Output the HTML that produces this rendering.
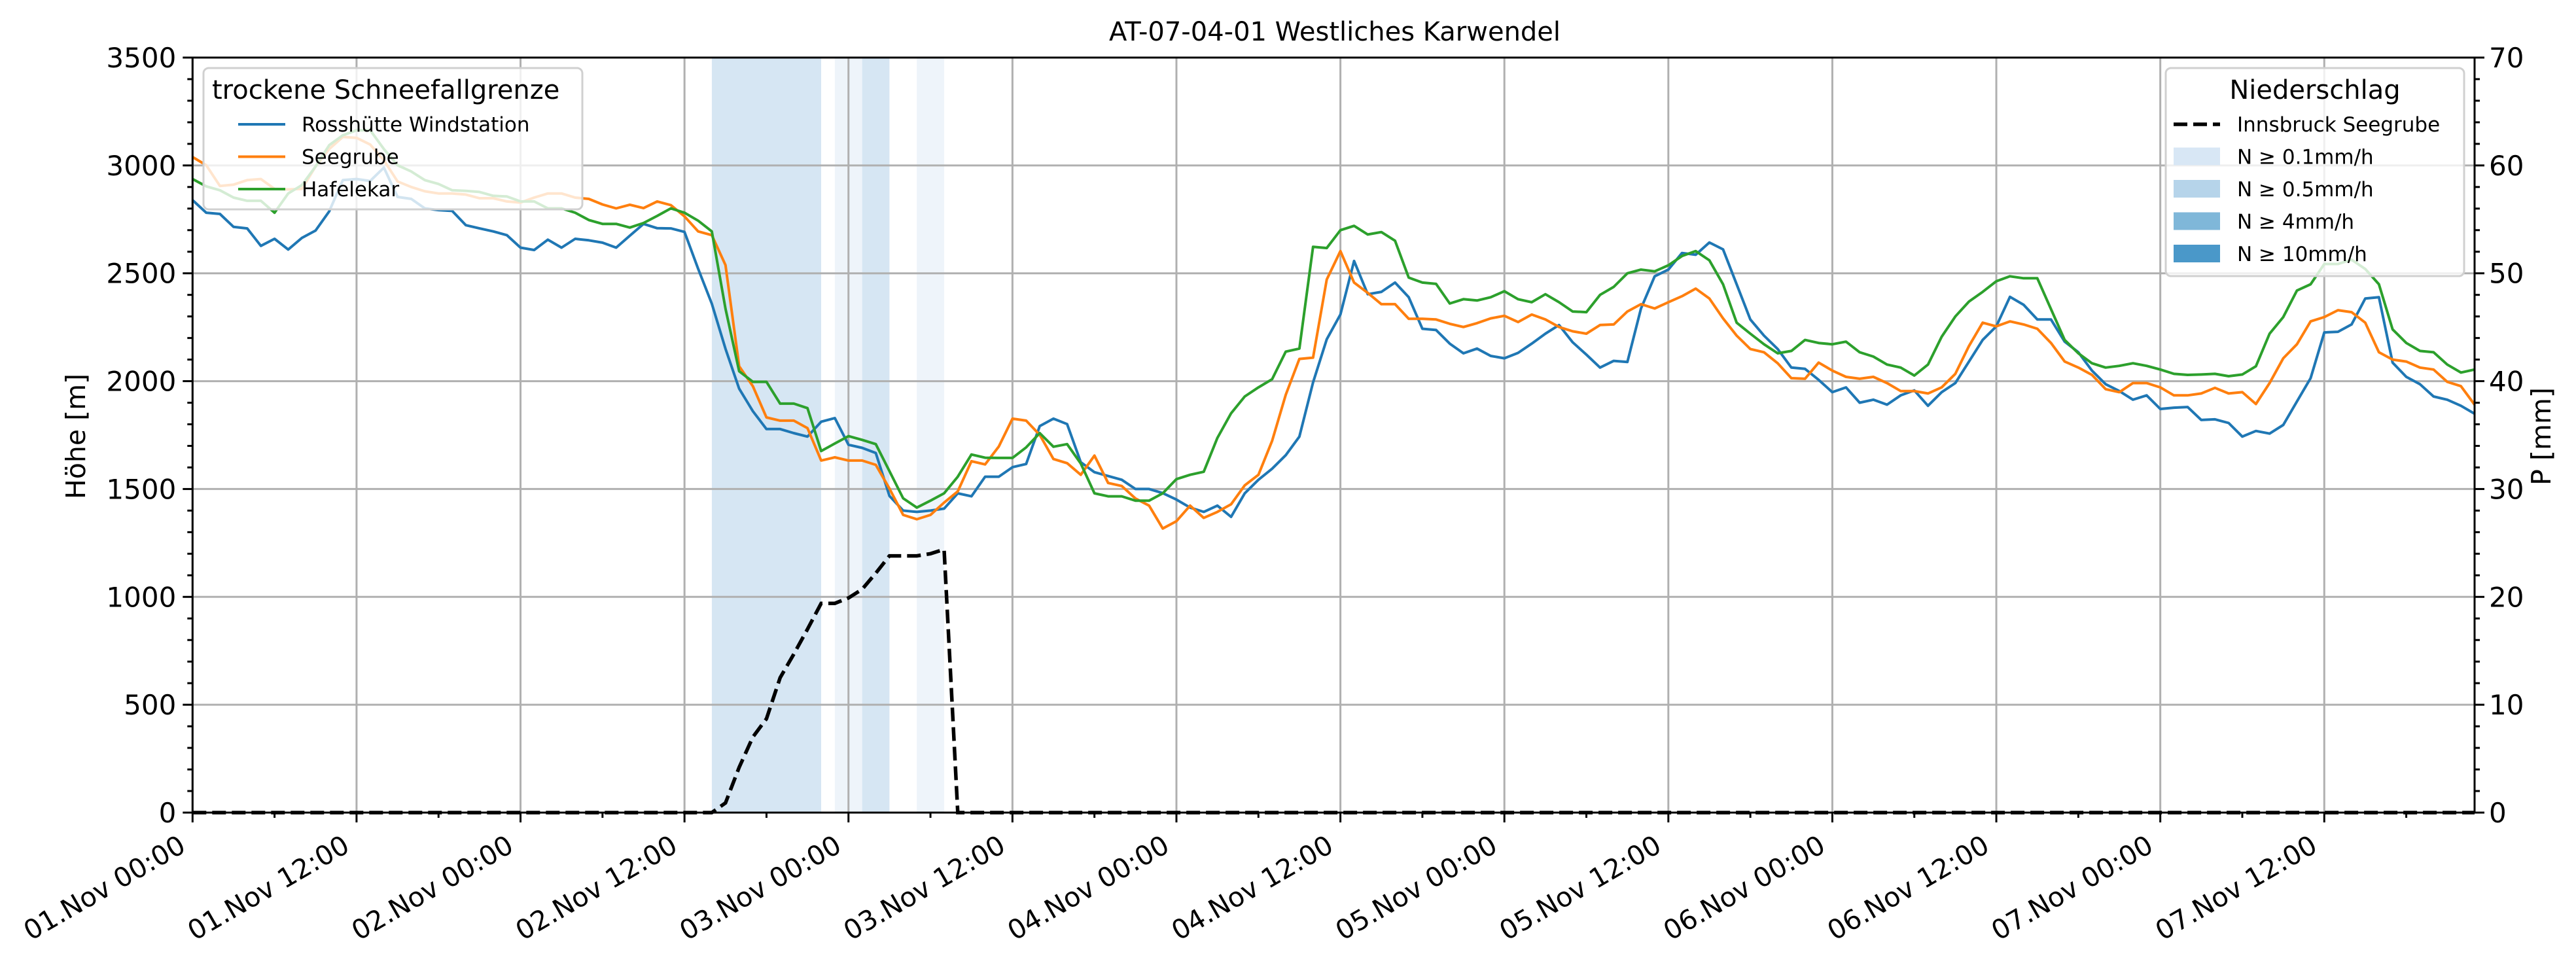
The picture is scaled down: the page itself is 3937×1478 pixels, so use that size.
<!DOCTYPE html>
<html><head><meta charset="utf-8">
<style>
html,body{margin:0;padding:0;background:#fff;}
svg{display:block;font-family:"DejaVu Sans","Liberation Sans",sans-serif;}
</style></head>
<body>
<svg id="chart" width="3937" height="1478" viewBox="0 0 3937 1478" xmlns="http://www.w3.org/2000/svg">
<rect x="0" y="0" width="3937" height="1478" fill="#fff"/>
<g id="bands"></g>
<g id="grid"></g>
<g id="series"></g>
<g id="axes"></g>
<g id="legends"></g>
<text x="2040" y="62" font-size="40" text-anchor="middle">AT-07-04-01 Westliches Karwendel</text>
<text transform="translate(130,667) rotate(-90)" font-size="41" text-anchor="middle">Höhe [m]</text>
<text transform="translate(3898,667) rotate(-90)" font-size="41" text-anchor="middle">P [mm]</text>
</svg>
<script>
const xTickLabels = ["01.Nov 00:00","01.Nov 12:00","02.Nov 00:00","02.Nov 12:00","03.Nov 00:00","03.Nov 12:00","04.Nov 00:00","04.Nov 12:00","05.Nov 00:00","05.Nov 12:00","06.Nov 00:00","06.Nov 12:00","07.Nov 00:00","07.Nov 12:00"];
const yTicks = [0,500,1000,1500,2000,2500,3000,3500];
const y2Ticks = [0,10,20,30,40,50,60,70];
const rossh = [2839,2781,2775,2715,2708,2627,2660,2610,2664,2698,2787,2932,2937,2928,2990,2854,2845,2801,2793,2789,2723,2708,2694,2677,2619,2608,2656,2619,2660,2653,2642,2619,2674,2729,2709,2708,2692,2521,2359,2150,1965,1861,1778,1778,1759,1743,1812,1829,1705,1691,1667,1468,1400,1394,1400,1409,1480,1466,1557,1557,1601,1616,1792,1826,1801,1624,1578,1560,1543,1500,1500,1481,1451,1414,1394,1423,1371,1480,1543,1594,1657,1743,1994,2194,2309,2557,2403,2414,2457,2389,2243,2237,2174,2129,2151,2117,2106,2131,2174,2220,2260,2180,2123,2063,2094,2089,2337,2486,2517,2594,2586,2643,2611,2449,2286,2211,2149,2063,2057,2006,1949,1971,1900,1914,1891,1934,1957,1886,1949,1991,2091,2191,2254,2391,2354,2286,2286,2183,2134,2049,1986,1954,1914,1934,1871,1877,1880,1820,1823,1806,1743,1769,1757,1797,1906,2014,2226,2229,2263,2383,2389,2086,2020,1986,1929,1914,1886,1849];
const seegrube = [3039,3001,2905,2911,2932,2937,2891,2889,2891,2995,3076,3132,3128,3097,3024,2926,2900,2880,2870,2870,2865,2848,2848,2833,2828,2851,2870,2870,2851,2845,2819,2801,2818,2802,2833,2816,2764,2694,2677,2538,2069,1977,1832,1817,1817,1782,1632,1647,1632,1632,1612,1502,1380,1360,1380,1437,1489,1629,1614,1697,1826,1817,1751,1639,1620,1566,1655,1528,1514,1456,1423,1317,1351,1423,1366,1394,1429,1517,1566,1723,1937,2103,2109,2471,2603,2457,2409,2357,2357,2289,2289,2286,2266,2251,2269,2291,2303,2274,2309,2286,2251,2231,2220,2260,2263,2323,2357,2337,2366,2394,2429,2383,2291,2211,2149,2134,2083,2014,2011,2086,2049,2020,2011,2020,1991,1954,1954,1943,1971,2034,2163,2271,2254,2277,2263,2243,2177,2091,2063,2029,1963,1949,1991,1991,1971,1934,1934,1943,1969,1943,1949,1894,1991,2106,2171,2277,2297,2329,2320,2271,2134,2100,2091,2063,2054,1997,1977,1891];
const hafelekar = [2937,2903,2885,2851,2836,2836,2781,2870,2909,2995,3094,3140,3163,3163,3076,3001,2972,2932,2914,2885,2882,2877,2859,2856,2833,2833,2801,2801,2781,2747,2729,2729,2712,2733,2766,2801,2781,2744,2694,2336,2046,1997,1997,1896,1896,1875,1676,1711,1745,1728,1708,1583,1457,1414,1446,1480,1557,1660,1645,1644,1644,1693,1759,1696,1708,1618,1480,1466,1466,1446,1446,1480,1546,1566,1580,1737,1851,1929,1971,2009,2137,2151,2623,2617,2700,2720,2680,2691,2651,2480,2457,2451,2360,2380,2374,2389,2417,2380,2366,2403,2366,2323,2320,2400,2437,2500,2517,2509,2537,2580,2603,2560,2449,2271,2220,2171,2129,2140,2191,2177,2171,2183,2134,2114,2077,2063,2026,2077,2206,2300,2369,2414,2463,2486,2477,2477,2334,2191,2129,2083,2063,2071,2083,2071,2054,2034,2029,2031,2034,2023,2031,2069,2220,2297,2420,2449,2543,2543,2563,2520,2449,2240,2177,2140,2134,2077,2040,2054];
const precipHours = [38,39,40,41,42,43,44,45,46,47,48,49,50,51,52,53,54,55,56];
const precipValues = [0,0.9,4.2,7.0,8.7,12.5,14.7,17.0,19.4,19.4,19.9,20.7,22.2,23.8,23.8,23.8,24.0,24.4,0];
const bandStart = [38,47,49,53];
const bandEnd = [46,49,51,55];
const bandLevel = [1,0,1,0];

const NS="http://www.w3.org/2000/svg";
const L=294.3,R=3782,T=88,B=1242,NH=167;
const xS=h=>L+(R-L)*h/NH;
const yS=v=>B-(B-T)*v/3500;
const y2S=v=>B-(B-T)*v/70;
function mk(tag,attrs,parent){const e=document.createElementNS(NS,tag);for(const k in attrs)e.setAttribute(k,attrs[k]);parent.appendChild(e);return e;}
const gB=document.getElementById('bands'),gG=document.getElementById('grid'),gS=document.getElementById('series'),gA=document.getElementById('axes'),gL=document.getElementById('legends');
const bandColors=['#eef4fa','#d6e6f3'];
bandStart.forEach((s,i)=>{const r=mk('rect',{x:xS(s),y:T,width:xS(bandEnd[i])-xS(s),height:B-T,fill:bandColors[bandLevel[i]]},gB);

});
xTickLabels.forEach((lab,i)=>{const x=xS(i*12);const l=mk('line',{x1:x,x2:x,y1:T,y2:B,stroke:'#b0b0b0','stroke-width':3},gG);

});
yTicks.forEach(v=>{const y=yS(v);const l=mk('line',{x1:L,x2:R,y1:y,y2:y,stroke:'#b0b0b0','stroke-width':3},gG);

});
function line(vals,color,name){const pts=vals.map((v,i)=>xS(i).toFixed(1)+','+yS(v).toFixed(1)).join(' ');const p=mk('polyline',{points:pts,fill:'none',stroke:color,'stroke-width':4,'stroke-linejoin':'round'},gS);

}
line(rossh,'#1f77b4','rosshuette-line');
line(seegrube,'#ff7f0e','seegrube-line');
line(hafelekar,'#2ca02c','hafelekar-line');
const pv=[];for(let h=0;h<=NH;h++){const k=precipHours.indexOf(h);pv.push(k>=0?precipValues[k]:0);}
const pp=mk('polyline',{points:pv.map((v,i)=>xS(i).toFixed(1)+','+y2S(v).toFixed(1)).join(' '),fill:'none',stroke:'#000','stroke-width':5.5,'stroke-dasharray':'21,9'},gS);


// axes frame
const fr=mk('rect',{x:L,y:T,width:R-L,height:B-T,fill:'none',stroke:'#000','stroke-width':3},gA);


for(let v=0;v<=3500;v+=100){const y=yS(v);const major=v%500===0;mk('line',{x1:L-(major?15:8),x2:L,y1:y,y2:y,stroke:'#000','stroke-width':3},gA);}
for(let v=0;v<=70;v+=2){const y=y2S(v);const major=v%10===0;mk('line',{x1:R,x2:R+(major?15:8),y1:y,y2:y,stroke:'#000','stroke-width':3},gA);}
for(let h=0;h<=NH;h+=6){const x=xS(h);const major=h%12===0;mk('line',{x1:x,x2:x,y1:B,y2:B+(major?15:8),stroke:'#000','stroke-width':3},gA);}
yTicks.forEach(v=>{const t=mk('text',{x:L-25,y:yS(v)+15,'font-size':42,'text-anchor':'end'},gA);t.textContent=v;

});
y2Ticks.forEach(v=>{const t=mk('text',{x:R+22,y:y2S(v)+15,'font-size':42},gA);t.textContent=v;

});
xTickLabels.forEach((lab,i)=>{const x=xS(i*12)-8;const t=mk('text',{transform:'translate('+x+',1300) rotate(-30)','font-size':41,'text-anchor':'end'},gA);t.textContent=lab;

});
// legends
const lg1=mk('rect',{x:311,y:104,width:579,height:216,rx:8,fill:'#fff','fill-opacity':0.8,stroke:'#d0d0d0','stroke-width':3},gL);


const lt1=mk('text',{x:324,y:151,'font-size':40},gL);lt1.textContent='trockene Schneefallgrenze';


const names1=['Rosshütte Windstation','Seegrube','Hafelekar'],cols1=['#1f77b4','#ff7f0e','#2ca02c'];
names1.forEach((n,i)=>{const y=190+49.5*i;mk('line',{x1:364,x2:436,y1:y,y2:y,stroke:cols1[i],'stroke-width':4},gL);const t=mk('text',{x:461,y:y+11,'font-size':31},gL);t.textContent=n;

});
const lg2=mk('rect',{x:3310,y:104,width:456,height:318,rx:8,fill:'#fff','fill-opacity':0.8,stroke:'#d0d0d0','stroke-width':3},gL);


const lt2=mk('text',{x:3538,y:151,'font-size':40,'text-anchor':'middle'},gL);lt2.textContent='Niederschlag';


mk('line',{x1:3322,x2:3393,y1:190,y2:190,stroke:'#000','stroke-width':5.5,'stroke-dasharray':'21,9'},gL);
const names2=['Innsbruck Seegrube','N ≥ 0.1mm/h','N ≥ 0.5mm/h','N ≥ 4mm/h','N ≥ 10mm/h'],sw=[null,'#d8e7f5','#b6d4ea','#7fb7d9','#4a98c9'];
names2.forEach((n,i)=>{const y=190+49.5*i;if(sw[i])mk('rect',{x:3322,y:y-14,width:71,height:27,fill:sw[i]},gL);const t=mk('text',{x:3419,y:y+11,'font-size':31},gL);t.textContent=n;

});
</script>
</body></html>
